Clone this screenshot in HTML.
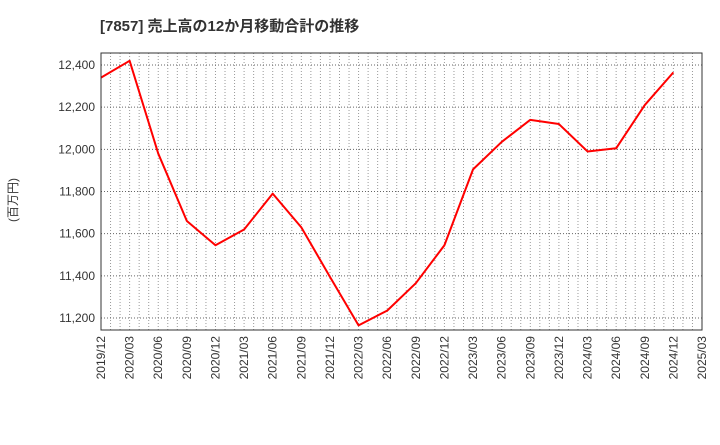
<!DOCTYPE html>
<html><head><meta charset="utf-8"><style>
body{margin:0;background:#fff;font-family:"Liberation Sans","Noto Sans CJK JP",sans-serif}
</style></head><body>
<svg id="c" width="720" height="440" xmlns="http://www.w3.org/2000/svg">
<text x="100" y="31" font-size="15" font-weight="bold" fill="#333" font-family="Liberation Sans,Noto Sans CJK JP,sans-serif">[7857]  売上高の12か月移動合計の推移</text>
<text transform="translate(17,200) rotate(-90)" text-anchor="middle" font-size="12" fill="#333" font-family="Liberation Sans,Noto Sans CJK JP,sans-serif">(百万円)</text>
<g id="grid"></g><g id="ticks"></g><g id="series"></g>
<rect x="101" y="53" width="601" height="277" fill="none" stroke="#333" stroke-width="1"/>
</svg>
<script>
const categories=["2019/12","2020/03","2020/06","2020/09","2020/12","2021/03","2021/06","2021/09","2021/12","2022/03","2022/06","2022/09","2022/12","2023/03","2023/06","2023/09","2023/12","2024/03","2024/06","2024/09","2024/12"];
const salesValues=[12340,12420,11980,11660,11545,11620,11790,11630,11395,11165,11235,11365,11545,11905,12035,12140,12120,11990,12005,12210,12365];
const xTickLabels=["2019/12","2020/03","2020/06","2020/09","2020/12","2021/03","2021/06","2021/09","2021/12","2022/03","2022/06","2022/09","2022/12","2023/03","2023/06","2023/09","2023/12","2024/03","2024/06","2024/09","2024/12","2025/03"];
const yTickValues=[11200,11400,11600,11800,12000,12200,12400];
const NS="http://www.w3.org/2000/svg";
const L=101,R=702,T=53,B=330,yMin=11143,yMax=12457;
const step=(R-L)/(xTickLabels.length-1);
function x(i){return L+i*step;}
function y(v){return B-(v-yMin)/(yMax-yMin)*(B-T);}
function mk(t,a,p){const e=document.createElementNS(NS,t);for(const k in a)e.setAttribute(k,a[k]);p.appendChild(e);return e;}
const g=document.getElementById('grid'),tk=document.getElementById('ticks'),s=document.getElementById('series');
const months=(xTickLabels.length-1)*3;
for(let m=1;m<months;m++){const xx=L+m*step/3;
const ln=mk('line',{x1:xx,x2:xx,y1:T,y2:B,stroke:'#999','stroke-dasharray':'1,2','stroke-width':1},g);

}
yTickValues.forEach(v=>{const yy=y(v);
const ln=mk('line',{x1:L,x2:R,y1:yy,y2:yy,stroke:'#666','stroke-dasharray':'1,2','stroke-width':1},g);


const t=mk('text',{x:L-6,y:yy+4,'text-anchor':'end','font-size':12,fill:'#333'},tk);t.textContent=v.toLocaleString('en-US');

});
xTickLabels.forEach((lb,i)=>{const t=mk('text',{transform:`translate(${x(i)+4},${B+6}) rotate(-90)`,'text-anchor':'end','font-size':12,fill:'#333'},tk);t.textContent=lb;

});
const pts=salesValues.map((v,i)=>x(i)+','+y(v)).join(' ');
const pl=mk('polyline',{points:pts,fill:'none',stroke:'#f00','stroke-width':2,'stroke-linejoin':'round'},s);


</script>
</body></html>
